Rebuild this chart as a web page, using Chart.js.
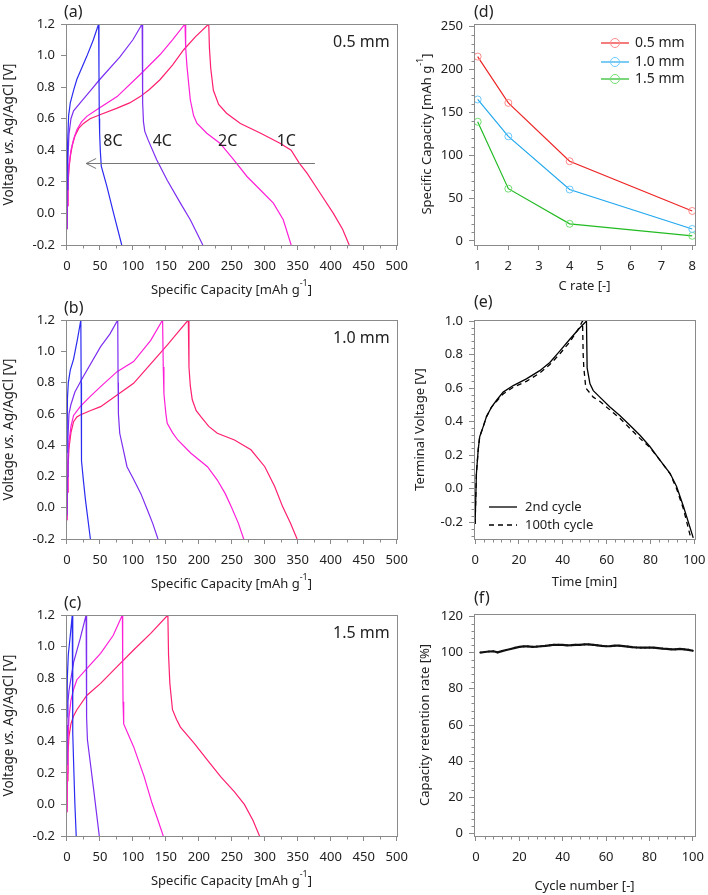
<!DOCTYPE html>
<html>
<head>
<meta charset="utf-8">
<script src="https://cdn.jsdelivr.net/npm/chart.js@4.4.1/dist/chart.umd.min.js"></script>
<style>
  html, body { margin: 0; padding: 0; background: #fff; }
  #fig { position: relative; width: 708px; height: 895px; overflow: hidden; }
  #fig canvas { position: absolute; }
</style>
</head>
<body>
<div id="fig"></div>
<script>
// ---------- data ----------
const capTicks = [0, 50, 100, 150, 200, 250, 300, 350, 400, 450, 500];
const voltTicks = [-0.2, 0, 0.2, 0.4, 0.6, 0.8, 1.0, 1.2];
const rateLabels = ['8C', '4C', '2C', '1C'];

// (a) 0.5 mm  [capacity, voltage]
const a8C = [[0,0.15],[1,0.45],[2.5,0.62],[5,0.7],[10,0.78],[15,0.85],[30,0.995],[40,1.1],[48,1.2],
  [48.5,0.9],[49,0.6],[49.5,0.51],[50.5,0.4],[52,0.3],[60.6,0.17],[70.7,0.0],[83,-0.2]];
const a4C = [[0,-0.1],[0.5,0.15],[1.5,0.35],[3,0.5],[6,0.6],[10,0.65],[20,0.7],[35,0.775],[50,0.85],[80,0.99],[100,1.1],[114,1.2],
  [114.5,0.9],[115,0.7],[116,0.58],[118,0.52],[123,0.466],[136,0.34],[152,0.21],[172,0.065],[187,-0.04],[206,-0.2]];
const a2C = [[0,-0.1],[0.5,0.05],[1.5,0.2],[3,0.3],[6,0.4],[10,0.47],[15,0.53],[22,0.58],[30,0.615],[45,0.657],[76,0.74],[111,0.88],[141,1.005],[160,1.1],[179,1.2],
  [180,1.05],[182,0.93],[187,0.72],[192,0.62],[197,0.572],[212,0.508],[232,0.445],[253,0.34],[273,0.234],[293,0.15],[313,0.065],[328,-0.04],[340,-0.2]];
const a1C = [[0,-0.1],[0.5,0.05],[1.5,0.18],[3,0.28],[5,0.36],[8,0.43],[12,0.49],[18,0.54],[25,0.57],[35,0.6],[50,0.625],[76,0.667],[95,0.7],[111,0.74],[125,0.785],[141,0.847],[160,0.94],[177,1.037],[195,1.12],[215,1.2],
  [216,1.05],[218,0.92],[222,0.78],[230,0.69],[242,0.635],[263,0.57],[293,0.51],[323,0.445],[340,0.4],[352,0.32],[364,0.255],[384,0.128],[404,0.0],[418,-0.1],[428,-0.2]];

// (b) 1.0 mm
const b8C = [[0,0.35],[0.7,0.7],[2,0.8],[5,0.88],[10,0.95],[16,1.08],[21,1.2],
  [21.5,0.8],[22,0.3],[25,0.17],[28,0.05],[35.5,-0.2]];
const b4C = [[0,-0.05],[0.5,0.2],[1.5,0.45],[3,0.6],[6,0.66],[12,0.74],[25,0.84],[51,1.03],[65,1.11],[77,1.2],
  [77.5,0.8],[78,0.6],[80,0.476],[85,0.38],[91,0.262],[100,0.19],[112,0.09],[122,-0.015],[130,-0.1],[138,-0.2]];
const b2C = [[0,-0.08],[0.5,0.1],[1.5,0.3],[3,0.42],[6,0.52],[10,0.59],[20,0.646],[35,0.71],[51,0.774],[76,0.87],[101,0.934],[127,1.07],[145,1.2],
  [146,0.9],[147,0.73],[150,0.6],[152,0.54],[160,0.48],[168,0.433],[188,0.348],[213,0.262],[228,0.177],[240,0.09],[249,0.007],[260,-0.1],[268,-0.2]];
const b1C = [[0,-0.08],[0.5,0.1],[1.5,0.25],[3,0.38],[6,0.48],[10,0.55],[15,0.58],[20,0.593],[35,0.62],[51,0.646],[76,0.72],[101,0.795],[127,0.92],[152,1.04],[170,1.13],[184,1.2],
  [185,0.9],[187,0.78],[190,0.69],[196,0.62],[203,0.582],[215,0.52],[228,0.476],[254,0.433],[279,0.37],[300,0.262],[315,0.135],[327,0.007],[339,-0.1],[349,-0.2]];

// (c) 1.5 mm
const c8C = [[0,0.55],[0.5,0.8],[2,0.95],[5,1.07],[8,1.2],
  [8.5,0.8],[9,0.45],[10.5,0.2],[12,0.0],[14,-0.2]];
const c4C = [[0,0.25],[0.7,0.5],[1.5,0.65],[3,0.72],[10,0.9],[20,1.05],[29,1.2],
  [29.5,0.8],[30,0.55],[31,0.41],[40,0.11],[49,-0.2]];
const c2C = [[0,-0.05],[0.5,0.2],[1.5,0.4],[3,0.55],[6,0.66],[10,0.73],[15,0.79],[30,0.86],[51,0.957],[70,1.07],[84,1.2],
  [84.5,0.9],[85,0.65],[86,0.51],[101,0.366],[117,0.176],[129,0.007],[138,-0.1],[146,-0.2]];
const c1C = [[0,-0.05],[0.5,0.15],[1.5,0.32],[3,0.43],[6,0.51],[10,0.56],[15,0.6],[30,0.69],[51,0.767],[76,0.873],[101,0.978],[127,1.084],[153,1.2],
  [154,0.95],[156,0.767],[160,0.6],[166,0.54],[172,0.49],[193,0.387],[213,0.28],[233,0.176],[254,0.08],[269,0.0],[282,-0.1],[292,-0.2]];

// (d) rate capability
const cRates = [1, 2, 4, 8];
const cRateTicks = [1, 2, 3, 4, 5, 6, 7, 8];
const capTicksD = [0, 50, 100, 150, 200, 250];
const thickness = ['0.5 mm', '1.0 mm', '1.5 mm'];
const cap05 = [215, 161, 93, 35];
const cap10 = [165, 122, 60, 14];
const cap15 = [139, 61, 20, 6];

// (e) voltage vs time [min, V]
const timeTicks = [0, 20, 40, 60, 80, 100];
const voltTicksE = [-0.2, 0, 0.2, 0.4, 0.6, 0.8, 1.0];
const cycle2 = [[0,-0.21],[0.6,0.09],[1.4,0.23],[2.1,0.31],[3.7,0.37],[5.2,0.43],[7.5,0.487],[9.7,0.526],[12.8,0.576],[17.4,0.615],[23.4,0.655],[29.5,0.704],[34.1,0.753],[38.7,0.822],[43.2,0.891],[47.8,0.96],[50.8,1.0],
  [51.1,0.72],[52.4,0.625],[53.9,0.585],[56.9,0.546],[61.5,0.487],[66,0.437],[70.6,0.378],[75.2,0.319],[79.8,0.25],[84.3,0.171],[88.9,0.092],[91.9,0.013],[95,-0.105],[99.5,-0.293]];
const cycle100 = [[0,-0.21],[0.6,0.09],[1.4,0.23],[2.1,0.31],[3.7,0.37],[5.2,0.43],[7.5,0.487],[9.7,0.52],[12.8,0.565],[17.4,0.605],[23.4,0.64],[29.5,0.69],[34.1,0.74],[38.7,0.805],[43.2,0.875],[47,0.95],[49,1.0],
  [49.3,0.8],[49.6,0.72],[50.5,0.6],[53.9,0.546],[57,0.52],[61.5,0.47],[66,0.42],[70.6,0.36],[75.2,0.3],[79.8,0.245],[84.3,0.17],[88.9,0.09],[91.9,0.0],[95,-0.12],[98.5,-0.3]];
const legendE = ['2nd cycle', '100th cycle'];

// (f) retention
const retTicks = [0, 20, 40, 60, 80, 100, 120];
const cycleNo = [2,4,6,8,10,12,14,16,18,20,22,24,26,28,30,32,34,36,38,40,42,44,46,48,50,
  52,54,56,58,60,62,64,66,68,70,72,74,76,78,80,82,84,86,88,90,92,94,96,98,100];
const retention = [100.0,100.3,100.6,100.7,100.1,100.8,101.4,102.0,102.6,103.1,103.4,103.4,103.2,103.3,103.5,103.7,104.0,104.3,104.3,104.2,104.0,104.1,104.3,104.3,104.5,
  104.5,104.3,104.0,103.7,103.5,103.6,103.8,103.8,103.6,103.3,103.0,102.8,102.7,102.7,102.8,102.7,102.5,102.2,102.0,101.8,101.8,102.0,101.8,101.5,101.0];

// ---------- helpers ----------
const FONT = "'Noto Sans', 'DejaVu Sans', sans-serif";
Chart.defaults.font.family = FONT;
Chart.defaults.color = '#222';
const INK = '#222';
const FRAME = '#8a8a8a';
const rateColors = ['#2b2bf2', '#7d2ef0', '#ff1fd8', '#ff1f70'];

const fig = document.getElementById('fig');
const pts = arr => arr.map(p => ({ x: p[0], y: p[1] }));

function minors(lo, hi, step, major) {
  const out = [];
  for (let i = Math.round(lo / step); i * step <= hi + 1e-9; i++) {
    const v = i * step;
    if (Math.abs(v / major - Math.round(v / major)) > 1e-6) out.push(v);
  }
  return out;
}

function text(ctx, s, x, y, size, align, color) {
  ctx.save();
  ctx.font = size + 'px ' + FONT;
  ctx.fillStyle = color || INK;
  ctx.textAlign = align || 'left';
  ctx.textBaseline = 'middle';
  ctx.fillText(s, x, y);
  ctx.restore();
}

// text in pieces, some italic or superscript
function rich(ctx, parts, cx, cy, size, rotate) {
  ctx.save();
  ctx.translate(cx, cy);
  if (rotate) ctx.rotate(-Math.PI / 2);
  const f = p => (p.it ? 'italic ' : '') + (p.sup ? Math.round(size * 0.72) : size) + 'px ' + FONT;
  let w = 0;
  parts.forEach(p => { ctx.font = f(p); p.w = ctx.measureText(p.t).width; w += p.w; });
  let x = -w / 2;
  ctx.fillStyle = INK;
  ctx.textBaseline = 'middle';
  ctx.textAlign = 'left';
  parts.forEach(p => { ctx.font = f(p); ctx.fillText(p.t, x, p.sup ? -size * 0.5 : 0); x += p.w; });
  ctx.restore();
}

function arrow(ctx, X, Y, x0, x1, y) {
  const py = Math.round(Y.getPixelForValue(y)) + 0.5;
  const p0 = X.getPixelForValue(x0), p1 = X.getPixelForValue(x1);
  ctx.save();
  ctx.strokeStyle = '#777';
  ctx.lineWidth = 1;
  ctx.beginPath();
  ctx.moveTo(p0, py); ctx.lineTo(p1, py);
  ctx.moveTo(p1 + 10, py - 5); ctx.lineTo(p1, py); ctx.lineTo(p1 + 10, py + 5);
  ctx.stroke();
  ctx.restore();
}

const capTitle = [{ t: 'Specific Capacity [mAh g' }, { t: '-1', sup: true }, { t: ']' }];
const voltTitle = [{ t: 'Voltage ' }, { t: 'vs.', it: true }, { t: ' Ag/AgCl [V]' }];

function panel(box, plot, cfg) {
  const cv = document.createElement('canvas');
  cv.width = box.w; cv.height = box.h;
  cv.style.left = box.x + 'px'; cv.style.top = box.y + 'px';
  cv.style.width = box.w + 'px'; cv.style.height = box.h + 'px';
  fig.appendChild(cv);

  const axis = (isX, range, ticks, fmt) => ({
    type: 'linear', min: range[0], max: range[1],
    afterBuildTicks: sc => { sc.ticks = ticks.map(v => ({ value: v })); },
    afterFit: sc => {
      // fixed plot area: ignore label overhang padding
      sc.paddingLeft = sc.paddingRight = sc.paddingTop = sc.paddingBottom = 0;
      if (isX) sc.height = box.y + box.h - plot.b;
      else sc.width = plot.l - box.x;
    },
    grid: { drawOnChartArea: false, drawTicks: true, tickLength: 5, color: FRAME, lineWidth: 1 },
    border: { display: false },
    ticks: { color: INK, font: { size: 13 }, padding: isX ? 8 : 6, autoSkip: false, maxRotation: 0, callback: fmt }
  });

  return new Chart(cv, {
    type: 'scatter',
    data: { datasets: cfg.datasets },
    options: {
      responsive: false, animation: false, devicePixelRatio: 1,
      layout: { padding: { top: plot.t - box.y, right: box.x + box.w - plot.r, left: 0, bottom: 0 } },
      scales: {
        x: axis(true, cfg.xRange, cfg.xTicks, cfg.xFmt),
        y: axis(false, cfg.yRange, cfg.yTicks, cfg.yFmt)
      },
      plugins: { legend: { display: false }, tooltip: { enabled: false } }
    },
    plugins: [{
      id: 'deco',
      afterDraw(ch) {
        const ctx = ch.ctx, a = ch.chartArea, X = ch.scales.x, Y = ch.scales.y;
        ctx.save();
        ctx.strokeStyle = FRAME; ctx.lineWidth = 1;
        const l = Math.round(a.left) + 0.5, t = Math.round(a.top) + 0.5;
        const r = Math.round(a.right) + 0.5, b = Math.round(a.bottom) + 0.5;
        ctx.strokeRect(l, t, r - l, b - t);
        ctx.beginPath();
        (cfg.minorX || []).forEach(v => {
          const px = Math.round(X.getPixelForValue(v)) + 0.5;
          ctx.moveTo(px, b); ctx.lineTo(px, b + 3);
        });
        (cfg.minorY || []).forEach(v => {
          const py = Math.round(Y.getPixelForValue(v)) + 0.5;
          ctx.moveTo(l, py); ctx.lineTo(l - 3, py);
        });
        ctx.stroke();
        ctx.translate(-box.x, -box.y); // extras use page coordinates
        if (cfg.extra) cfg.extra(ctx, a, X, Y);
        ctx.restore();
      }
    }]
  });
}

const curve = (d, i) => ({
  data: pts(d), showLine: true, borderColor: rateColors[i], borderWidth: 1.2,
  pointRadius: 0, tension: 0, fill: false
});

const fmt1 = v => v.toFixed(1);
const fmt0 = v => String(v);

// ---------- left column: charge/discharge curves ----------
function gcdPanel(letter, thick, curves, box, plot, extra) {
  panel(box, plot, {
    datasets: curves.map(curve),
    xRange: [-1.5, 500.5], yRange: [-0.2, 1.2],
    xTicks: capTicks, yTicks: voltTicks, xFmt: fmt0, yFmt: fmt1,
    minorX: minors(0, 500, 25, 50),
    extra: (ctx, a, X, Y) => {
      text(ctx, '(' + letter + ')', 64, plot.t - 12, 16, 'left');
      text(ctx, thick, plot.r - 64, plot.t + 18, 16, 'left');
      rich(ctx, voltTitle, 9, (plot.t + plot.b) / 2, 13.5, true);
      rich(ctx, capTitle, (plot.l + plot.r) / 2, plot.b + 45, 13, false);
      extra(ctx, a, X, Y);
    }
  });
}

gcdPanel('a', '0.5 mm', [a8C, a4C, a2C, a1C],
  { x: 0, y: 0, w: 410, h: 300 }, { l: 66, t: 24, r: 397, b: 245 },
  (ctx, a, X, Y) => {
    const lx = [55, 130, 229, 318];
    rateLabels.forEach((s, i) => text(ctx, s, X.getPixelForValue(lx[i]), Y.getPixelForValue(0.455), 16, 'left'));
    arrow(ctx, X, Y, 376, 29, 0.318);
  });

gcdPanel('b', '1.0 mm', [b8C, b4C, b2C, b1C],
  { x: 0, y: 285, w: 410, h: 315 }, { l: 66, t: 320, r: 397, b: 539 },
  (ctx, a, X, Y) => arrow(ctx, X, Y, 370, 6.6, 0));

gcdPanel('c', '1.5 mm', [c8C, c4C, c2C, c1C],
  { x: 0, y: 585, w: 410, h: 310 }, { l: 66, t: 615, r: 397, b: 836 },
  (ctx, a, X, Y) => arrow(ctx, X, Y, 307, 7.6, 0));

// ---------- (d) ----------
const dLine = ['#ee2424', '#22a8ee', '#22bb22'];
const dMark = ['#ff8a8a', '#6cc8ff', '#70dd70'];
const plotD = { l: 474, t: 24, r: 695, b: 245 };
panel({ x: 410, y: 0, w: 298, h: 300 }, plotD, {
  datasets: [cap05, cap10, cap15].map((s, i) => ({
    data: cRates.map((c, j) => ({ x: c, y: s[j] })), showLine: true,
    borderColor: dLine[i], borderWidth: 1.2, pointRadius: 3.5,
    pointBorderColor: dMark[i], pointBackgroundColor: 'rgba(0,0,0,0)', pointBorderWidth: 1
  })),
  xRange: [0.88, 8.09], yRange: [-4.7, 253],
  xTicks: cRateTicks, yTicks: capTicksD, xFmt: fmt0, yFmt: fmt0,
  minorY: minors(0, 250, 10, 50),
  extra: (ctx) => {
    text(ctx, '(d)', 474, 12, 16, 'left');
    rich(ctx, [{ t: 'Specific Capacity [mAh g' }, { t: '-1', sup: true }, { t: ']' }], 427, 134, 13, true);
    rich(ctx, [{ t: 'C rate [-]' }], (plotD.l + plotD.r) / 2, 286, 13, false);
    const ly = [43, 62, 79];
    thickness.forEach((s, i) => {
      ctx.save();
      ctx.strokeStyle = dLine[i]; ctx.lineWidth = 1.2;
      ctx.beginPath(); ctx.moveTo(601, ly[i]); ctx.lineTo(629, ly[i]); ctx.stroke();
      ctx.strokeStyle = dMark[i]; ctx.lineWidth = 1;
      ctx.beginPath(); ctx.arc(615, ly[i], 4.5, 0, Math.PI * 2); ctx.stroke();
      ctx.restore();
      text(ctx, s, 635, ly[i], 14, 'left');
    });
  }
});

// ---------- (e) ----------
const plotE = { l: 474, t: 320, r: 695, b: 539 };
panel({ x: 410, y: 285, w: 298, h: 315 }, plotE, {
  datasets: [
    { data: pts(cycle2), showLine: true, borderColor: '#000', borderWidth: 1.3, pointRadius: 0, tension: 0 },
    { data: pts(cycle100), showLine: true, borderColor: '#000', borderWidth: 1.3, borderDash: [5, 4], pointRadius: 0, tension: 0 }
  ],
  xRange: [-0.5, 100.3], yRange: [-0.3, 1.006],
  xTicks: timeTicks, yTicks: voltTicksE, xFmt: fmt0, yFmt: fmt1,
  minorX: minors(0, 100, 4, 20), minorY: minors(-0.28, 1.0, 0.04, 0.2),
  extra: (ctx) => {
    text(ctx, '(e)', 474, 302, 16, 'left');
    rich(ctx, [{ t: 'Terminal Voltage [V]' }], 420, (plotE.t + plotE.b) / 2, 13, true);
    rich(ctx, [{ t: 'Time [min]' }], (plotE.l + plotE.r) / 2, 582, 13, false);
    ctx.save();
    ctx.strokeStyle = '#000'; ctx.lineWidth = 1.3;
    ctx.beginPath(); ctx.moveTo(489, 507); ctx.lineTo(517, 507); ctx.stroke();
    ctx.setLineDash([5, 4]);
    ctx.beginPath(); ctx.moveTo(489, 525); ctx.lineTo(517, 525); ctx.stroke();
    ctx.restore();
    text(ctx, legendE[0], 525, 507, 13, 'left');
    text(ctx, legendE[1], 525, 525, 13, 'left');
  }
});

// ---------- (f) ----------
const plotF = { l: 474, t: 614, r: 695, b: 836 };
panel({ x: 410, y: 585, w: 298, h: 310 }, plotF, {
  datasets: [{
    data: cycleNo.map((c, i) => ({ x: c, y: retention[i] })), showLine: true,
    borderColor: '#111', borderWidth: 2.2, pointRadius: 1, pointBorderWidth: 0,
    pointBackgroundColor: '#111', tension: 0
  }],
  xRange: [-0.9, 101], yRange: [-1.3, 121.3],
  xTicks: timeTicks, yTicks: retTicks, xFmt: fmt0, yFmt: fmt0,
  minorX: minors(0, 100, 4, 20), minorY: minors(0, 120, 4, 20),
  extra: (ctx) => {
    text(ctx, '(f)', 474, 598, 16, 'left');
    rich(ctx, [{ t: 'Capacity retention rate [%]' }], 425, (plotF.t + plotF.b) / 2, 13, true);
    rich(ctx, [{ t: 'Cycle number [-]' }], (plotF.l + plotF.r) / 2, 886, 13, false);
  }
});
</script>
</body>
</html>
